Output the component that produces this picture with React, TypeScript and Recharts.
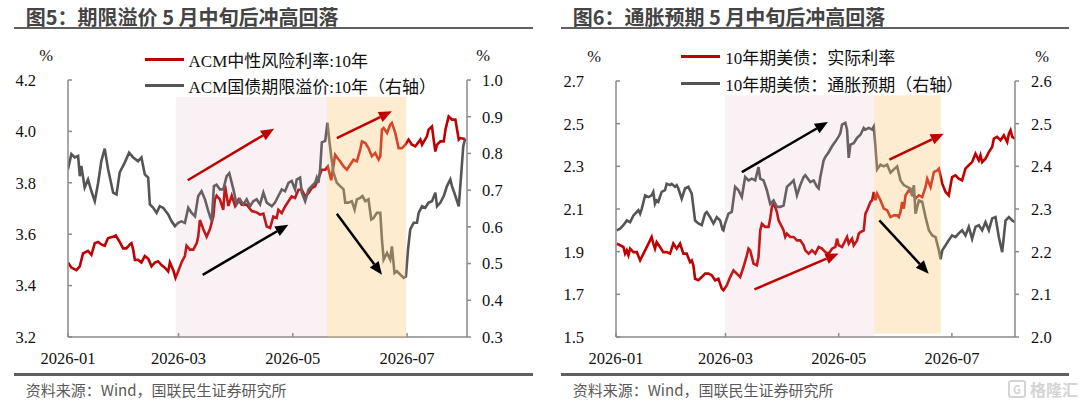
import React from "react";
import {
  ComposedChart,
  Line,
  XAxis,
  YAxis,
  ReferenceArea,
  ReferenceLine,
  Legend,
} from "recharts";

type Pt = [number, number];
type Arrow = { from: Pt; to: Pt };

// x = days since 2026-01-01
const monthTicks = [0, 59, 120, 181];
const monthLabels = ["2026-01", "2026-03", "2026-05", "2026-07"];

// 图5: ACM 中性风险利率 (左轴) / 期限溢价 (右轴)
const acmNeutral: Pt[] = [
  [0, 3.49], [1.8, 3.47], [4.5, 3.46], [6.3, 3.475], [8, 3.525], [10.7, 3.535], [12.5, 3.52],
  [14.3, 3.565], [16.1, 3.57], [17.8, 3.56], [19.6, 3.555], [21.4, 3.585], [24.1, 3.59],
  [25.5, 3.595], [27.6, 3.57], [29.4, 3.545], [31.2, 3.545], [33, 3.56], [33.9, 3.565],
  [34.8, 3.54], [35.7, 3.5], [37.4, 3.5], [39.2, 3.49], [41, 3.515], [42.8, 3.505],
  [44.6, 3.475], [46.4, 3.49], [48.1, 3.495], [49.9, 3.48], [51.7, 3.47], [53.5, 3.455],
  [54.4, 3.49], [56.2, 3.46], [57.4, 3.43], [58.8, 3.455], [60.6, 3.49], [62.4, 3.515],
  [63.3, 3.555], [65.1, 3.54], [66.9, 3.54], [68.7, 3.565], [69.5, 3.59], [70.4, 3.655],
  [72.2, 3.62], [74, 3.59], [75.8, 3.62], [77.6, 3.67], [78.4, 3.735], [79.3, 3.75],
  [81.1, 3.735], [82.9, 3.695], [83.8, 3.79], [85.6, 3.71], [87.4, 3.75], [89.2, 3.71],
  [91, 3.735], [92.7, 3.715], [95.4, 3.715], [98.1, 3.69], [100.7, 3.685], [102.5, 3.676],
  [104.3, 3.68], [106.1, 3.63], [107.9, 3.624], [109.6, 3.669], [111.4, 3.663], [112.3, 3.695],
  [114.1, 3.682], [115.9, 3.708], [117.7, 3.728], [119.4, 3.747], [121.2, 3.741], [123, 3.773],
  [124.8, 3.773], [126.6, 3.747], [128.4, 3.76], [130.1, 3.779], [131.9, 3.786], [133.7, 3.818],
  [135.5, 3.851], [137.3, 3.851], [138.7, 3.864], [140.5, 3.81], [142.6, 3.909], [145.3, 3.883],
  [147.1, 3.864], [148.9, 3.851], [150.6, 3.87], [152.4, 3.89], [154.2, 3.883], [156, 3.929],
  [156.9, 3.961], [158.7, 3.955], [160.4, 3.935], [162.2, 3.903], [164, 3.916], [165.8, 3.89],
  [166.7, 3.903], [167.6, 4.007], [168.5, 4.013], [170.3, 3.994], [172, 4.026], [172.9, 4.033],
  [174.7, 3.994], [176.5, 3.935], [178.3, 3.935], [180.1, 3.948], [181.8, 3.968], [183.6, 3.948],
  [185.4, 3.942], [188.1, 3.968], [189, 3.948], [191.6, 3.981], [192.5, 4.007], [194.3, 4.019],
  [195.2, 3.968], [196.1, 3.922], [197, 3.948], [198.8, 3.961], [200.6, 3.961], [201.5, 4.007],
  [203.2, 4.058], [205, 4.046], [206.8, 4.046], [208.6, 3.968], [209.5, 3.974], [212, 3.97],
];

const acmPremium: Pt[] = [
  [0, 0.757], [1.8, 0.798], [3.6, 0.789], [5.4, 0.793], [6.3, 0.738], [7.1, 0.766], [8.9, 0.707],
  [10.7, 0.729], [12.5, 0.697], [14.3, 0.67], [16.1, 0.72], [17.8, 0.779], [19.6, 0.813],
  [21.4, 0.757], [24.1, 0.693], [25.9, 0.688], [27.6, 0.748], [30.3, 0.775], [32.6, 0.802],
  [34.8, 0.789], [37.4, 0.779], [39.2, 0.789], [41, 0.743], [42.8, 0.734], [43.7, 0.661],
  [45.5, 0.652], [47.3, 0.638], [49, 0.656], [50.8, 0.652], [53.5, 0.634], [55.3, 0.615],
  [57.1, 0.602], [58.8, 0.611], [60.6, 0.615], [62.4, 0.611], [64.2, 0.652], [66, 0.638],
  [67.8, 0.629], [69.5, 0.684], [71.3, 0.697], [73.1, 0.675], [74.9, 0.643], [76.7, 0.615],
  [77.9, 0.711], [79.3, 0.715], [81.1, 0.702], [82.9, 0.702], [84.7, 0.738], [86.1, 0.746],
  [88.3, 0.702], [90, 0.661], [91.8, 0.675], [93.6, 0.661], [95.4, 0.675], [97.2, 0.656],
  [98.9, 0.67], [100.7, 0.675], [102.5, 0.661], [104.3, 0.693], [106.1, 0.666], [108.8, 0.656],
  [110.5, 0.666], [112.3, 0.684], [114.1, 0.702], [115.9, 0.697], [117.7, 0.72], [119.4, 0.725],
  [121.2, 0.702], [122.1, 0.729], [123.9, 0.734], [124.8, 0.693], [126.6, 0.67], [128.4, 0.702],
  [130.1, 0.711], [131.9, 0.72], [132.8, 0.734], [133.7, 0.72], [134.6, 0.757], [135.5, 0.83],
  [137.3, 0.834], [138.5, 0.884], [139.4, 0.839], [140.5, 0.793], [141.7, 0.748], [143.5, 0.72],
  [145.3, 0.711], [147.1, 0.702], [148, 0.666], [149.7, 0.666], [151.5, 0.67], [153, 0.647],
  [154.2, 0.675], [156, 0.679], [157.2, 0.684], [158.7, 0.67], [160.4, 0.675], [161.9, 0.62],
  [163.1, 0.624], [164.9, 0.638], [166.7, 0.638], [167.6, 0.565], [168.5, 0.511], [170.3, 0.529],
  [172, 0.511], [172.9, 0.547], [174.3, 0.474], [175.6, 0.479], [177.4, 0.47], [179.2, 0.461],
  [180.4, 0.465], [181.5, 0.538], [182.7, 0.593], [184.5, 0.611], [186.3, 0.611], [187.2, 0.638],
  [189, 0.656], [190.7, 0.652], [192.5, 0.666], [194.3, 0.67], [196.1, 0.693], [197, 0.656],
  [198.8, 0.666], [200.6, 0.684], [202.3, 0.711], [204.1, 0.729], [205, 0.711], [206.8, 0.684],
  [208.6, 0.656], [210, 0.75], [211, 0.82], [212, 0.84],
];

// 图6: 10年期美债 实际利率 (左轴) / 通胀预期 (右轴)
const realYield: Pt[] = [
  [0.4, 1.938], [2.2, 1.93], [4, 1.922], [4.9, 1.891], [5.8, 1.906], [6.7, 1.883], [7.6, 1.914],
  [9.4, 1.898], [11.2, 1.898], [13, 1.859], [13.9, 1.875], [15.7, 1.906], [17.5, 1.938],
  [19.2, 1.969], [20.1, 1.938], [21, 1.914], [21.9, 1.945], [23.7, 1.922], [25.5, 1.898],
  [27.3, 1.898], [29.1, 1.891], [30.9, 1.938], [32.7, 1.914], [34.5, 1.938], [36.3, 1.891],
  [38.1, 1.891], [39.9, 1.851], [40.8, 1.859], [41.7, 1.836], [42.6, 1.773], [44.4, 1.766],
  [46.2, 1.781], [48, 1.797], [49.8, 1.797], [51.6, 1.789], [53.4, 1.766], [55.2, 1.773],
  [57, 1.727], [57.9, 1.719], [59.7, 1.742], [61.5, 1.781], [63.3, 1.812], [65.1, 1.797],
  [66.9, 1.781], [68.7, 1.828], [70.5, 1.883], [71.4, 1.914], [72.3, 1.906], [74.1, 1.844],
  [75.9, 1.836], [76.8, 1.875], [77.7, 2], [78.6, 2.031], [80.4, 2.016], [82.2, 2.016],
  [83.1, 2.055], [84, 2.109], [84.9, 2.125], [85.8, 2.109], [86.7, 2.086], [87.6, 2.047],
  [89.4, 2.016], [90.3, 2], [91.2, 1.969], [92.1, 1.984], [93.9, 1.969], [95.7, 1.969],
  [97.5, 1.953], [99.3, 1.953], [101.1, 1.93], [102, 1.906], [103.8, 1.891], [105.6, 1.906],
  [107.4, 1.891], [109.2, 1.922], [111, 1.914], [112.8, 1.898], [114.6, 1.891], [116.4, 1.914],
  [118.2, 1.922], [119.1, 1.961], [120, 1.93], [121.8, 1.922], [123.6, 1.953], [124.5, 1.969],
  [125.4, 1.938], [127.2, 1.961], [128.1, 1.93], [129.9, 1.953], [130.8, 1.984], [131.7, 1.992],
  [133.5, 2], [134.4, 2.078], [135.3, 2.094], [137.1, 2.133], [138, 2.141], [138.9, 2.18],
  [139.8, 2.141], [140.7, 2.172], [142.5, 2.141], [144.3, 2.102], [146.1, 2.094], [147.9, 2.062],
  [149.7, 2.07], [151.5, 2.07], [152.4, 2.062], [153.3, 2.086], [154.2, 2.133], [155.1, 2.102],
  [156, 2.164], [157.8, 2.188], [159.6, 2.172], [161.4, 2.149], [163.2, 2.164], [165, 2.156],
  [166.8, 2.203], [167.7, 2.242], [169.5, 2.203], [171.3, 2.273], [173.1, 2.281], [174, 2.289],
  [175.8, 2.219], [177.6, 2.18], [179.3, 2.164], [181.1, 2.25], [182.9, 2.258], [184.7, 2.242],
  [186.5, 2.234], [188.3, 2.289], [190.1, 2.305], [191.9, 2.32], [193.7, 2.359], [195.5, 2.328],
  [196.4, 2.352], [197.3, 2.32], [199.1, 2.336], [200.9, 2.367], [202.7, 2.391], [203.6, 2.43],
  [205.4, 2.438], [207.2, 2.422], [209, 2.445], [210.8, 2.414], [211.7, 2.453], [212.6, 2.469],
  [213.5, 2.438], [215, 2.43],
];

const breakeven: Pt[] = [
  [0.4, 2.25], [2.2, 2.254], [4, 2.262], [5.8, 2.273], [7.6, 2.269], [9.4, 2.285], [11.2, 2.293],
  [12.1, 2.297], [13, 2.289], [13.9, 2.301], [15.7, 2.332], [17.5, 2.328], [19.2, 2.332],
  [20.1, 2.34], [21, 2.312], [21.9, 2.32], [22.8, 2.317], [24.6, 2.34], [26.4, 2.344],
  [27.3, 2.359], [29.1, 2.356], [30, 2.359], [31.8, 2.352], [32.7, 2.356], [33.6, 2.348],
  [35.4, 2.324], [37.2, 2.348], [39, 2.352], [40.8, 2.336], [42.6, 2.273], [44.4, 2.266],
  [46.2, 2.262], [48, 2.289], [48.9, 2.293], [50.7, 2.281], [52.5, 2.266], [54.3, 2.281],
  [56.1, 2.273], [57.4, 2.252], [57.9, 2.25], [58.8, 2.266], [60.6, 2.289], [62.4, 2.293],
  [64.2, 2.352], [66, 2.344], [67.8, 2.328], [69.6, 2.375], [71.4, 2.367], [73.2, 2.371],
  [75, 2.367], [76.8, 2.398], [77.7, 2.371], [79.5, 2.367], [81.3, 2.344], [83.1, 2.312],
  [84.9, 2.32], [86.7, 2.305], [88.5, 2.305], [90.3, 2.308], [92.1, 2.352], [93.9, 2.359],
  [95.7, 2.367], [97.5, 2.332], [99.3, 2.356], [101.1, 2.375], [102, 2.379], [104.7, 2.363],
  [106.5, 2.367], [108.3, 2.352], [109.2, 2.348], [110.1, 2.375], [111.9, 2.414], [112.8, 2.422],
  [114.6, 2.433], [116.4, 2.447], [118.2, 2.458], [120, 2.47], [120.9, 2.478], [121.8, 2.498],
  [123.6, 2.502], [124.5, 2.486], [125.4, 2.42], [126.3, 2.451], [128.1, 2.454], [129.9, 2.467],
  [131.7, 2.474], [133.5, 2.49], [134.4, 2.486], [136.2, 2.49], [138, 2.486], [138.9, 2.493],
  [139.8, 2.447], [140.7, 2.393], [142.5, 2.404], [144.3, 2.4], [146.1, 2.404], [147.9, 2.385],
  [149.7, 2.393], [151.5, 2.4], [153.3, 2.367], [155.1, 2.356], [156.9, 2.352], [158.7, 2.348],
  [159.6, 2.33], [160.5, 2.356], [161.4, 2.289], [163.2, 2.32], [165, 2.317], [166.8, 2.281],
  [168.6, 2.25], [170.4, 2.238], [172.2, 2.234], [174, 2.203], [174.9, 2.182], [175.8, 2.203],
  [177.6, 2.215], [179.3, 2.227], [181.1, 2.238], [182.9, 2.234], [184.7, 2.243], [186.5, 2.25],
  [188.3, 2.238], [190.1, 2.258], [191.9, 2.23], [193.7, 2.258], [195.5, 2.262], [197.3, 2.25],
  [199.1, 2.269], [200.9, 2.25], [202.7, 2.278], [204.5, 2.281], [206.3, 2.234], [208.1, 2.199],
  [209.9, 2.273], [211.7, 2.281], [213.5, 2.273], [215, 2.269],
];

const premiumTicksL = [3.2, 3.4, 3.6, 3.8, 4.0, 4.2];
const premiumTicksR = [0.3, 0.4, 0.5, 0.6, 0.7, 0.8, 0.9, 1.0];
const inflationTicksL = [1.5, 1.7, 1.9, 2.1, 2.3, 2.5, 2.7];
const inflationTicksR = [2.0, 2.1, 2.2, 2.3, 2.4, 2.5, 2.6];

// shaded windows, in days
const premiumRise: Pt = [57.6, 138.2];
const premiumFall: Pt = [138.2, 180.6];
const inflationRise: Pt = [58.8, 139.1];
const inflationFall: Pt = [139.1, 175];

// annotation arrows, [day, left-axis value]
const premiumRedArrows: Arrow[] = [
  { from: [63.9, 3.81], to: [110, 4.01] },
  { from: [143.5, 3.974], to: [172.9, 4.078] },
];
const premiumBlackArrows: Arrow[] = [
  { from: [71.9, 3.442], to: [117.6, 3.637] },
  { from: [143.5, 3.68], to: [167.6, 3.442] },
];
const inflationRedArrows: Arrow[] = [
  { from: [74.6, 1.723], to: [119.9, 1.891] },
  { from: [147.3, 2.331], to: [176.6, 2.453] },
];
const inflationBlackArrows: Arrow[] = [
  { from: [67.8, 2.273], to: [114.2, 2.508] },
  { from: [141.9, 2.047], to: [168.5, 1.797] },
];

const RED = "#C00000";
const GRAY = "#555555";
const AXIS = { stroke: "#8a8a8a", strokeWidth: 1.5 };
const SERIF = "'Liberation Serif', 'Times New Roman', 'Noto Sans CJK SC', serif";
const SANS = "'Noto Sans CJK SC', 'Noto Sans', sans-serif";
const TEXT_STYLE = { fontFamily: SERIF, fontSize: 16.5, fill: "#111" };

const toRows = (pts: Pt[]) => pts.map(([d, v]) => ({ d, v }));

// tick renderer: dy mimics Recharts' vertical anchoring (middle for y axes, top for x axis)
const tickText = (fmt: (v: number) => string, dy: string) => (p: any) => (
  <text x={p.x} y={p.y} dy={dy} textAnchor={p.textAnchor} style={TEXT_STYLE}>
    {fmt(p.payload.value)}
  </text>
);
const fmtNum = (v: number) => v.toFixed(1);
const fmtMonth = (v: number) => monthLabels[monthTicks.indexOf(v)] ?? "";

const arrowShape = (color: string) => (p: any) => {
  const { x1, y1, x2, y2 } = p;
  const a = Math.atan2(y2 - y1, x2 - x1);
  const len = 13;
  const hw = 5.5;
  const bx = x2 - len * Math.cos(a);
  const by = y2 - len * Math.sin(a);
  const pts = [
    `${x2},${y2}`,
    `${bx + hw * Math.sin(a)},${by - hw * Math.cos(a)}`,
    `${bx - hw * Math.sin(a)},${by + hw * Math.cos(a)}`,
  ].join(" ");
  return (
    <g>
      <line x1={x1} y1={y1} x2={bx} y2={by} stroke={color} strokeWidth={2.5} />
      <polygon points={pts} fill={color} />
    </g>
  );
};

const pct = (dx: number) => (p: any) => {
  const vb = p.viewBox || { x: 0, y: 80 };
  return (
    <text x={vb.x + dx} y={vb.y - 25} dy="0.355em" textAnchor="middle" style={TEXT_STYLE}>
      %
    </text>
  );
};

interface PanelProps {
  leftName: string;
  rightName: string;
  leftData: Pt[];
  rightData: Pt[];
  xEnd: number;
  lTicks: number[];
  rTicks: number[];
  rise: Pt;
  fall: Pt;
  shadeTop: number;
  fallBottom: number;
  redArrows: Arrow[];
  blackArrows: Arrow[];
  top: number;
  lw: number;
  rw: number;
  rTickMargin: number;
  pctL: number;
  pctR: number;
  legendLeft: number;
  legendTop: number;
}

function Panel(props: PanelProps) {
  const lDomain: Pt = [props.lTicks[0], props.lTicks[props.lTicks.length - 1]];
  const rDomain: Pt = [props.rTicks[0], props.rTicks[props.rTicks.length - 1]];
  const arrows = [
    ...props.redArrows.map((a) => ({ ...a, color: RED })),
    ...props.blackArrows.map((a) => ({ ...a, color: "#000" })),
  ];
  return (
    <ComposedChart
      width={540}
      height={403}
      margin={{ top: props.top, right: 0, bottom: 36, left: 0 }}
    >
      <XAxis
        type="number"
        dataKey="d"
        domain={[0, props.xEnd]}
        ticks={monthTicks}
        interval={0}
        allowDataOverflow
        height={30}
        tickSize={-4}
        tickMargin={19}
        axisLine={AXIS}
        tickLine={AXIS}
        tick={tickText(fmtMonth, "0.71em")}
      />
      <YAxis
        yAxisId="L"
        orientation="left"
        width={props.lw}
        domain={lDomain}
        ticks={props.lTicks}
        interval={0}
        allowDataOverflow
        tickSize={-4}
        tickMargin={36}
        axisLine={AXIS}
        tickLine={AXIS}
        tick={tickText(fmtNum, "0.355em")}
        label={{ position: "top", content: pct(props.pctL) }}
      />
      <YAxis
        yAxisId="R"
        orientation="right"
        width={props.rw}
        domain={rDomain}
        ticks={props.rTicks}
        interval={0}
        allowDataOverflow
        tickSize={4}
        tickMargin={props.rTickMargin}
        axisLine={AXIS}
        tickLine={AXIS}
        tick={tickText(fmtNum, "0.355em")}
        label={{ position: "top", content: pct(props.pctR) }}
      />
      <Line
        yAxisId="L"
        data={toRows(props.leftData)}
        dataKey="v"
        name={props.leftName}
        type="linear"
        stroke={RED}
        strokeWidth={2.6}
        dot={false}
        activeDot={false}
        isAnimationActive={false}
      />
      <Line
        yAxisId="R"
        data={toRows(props.rightData)}
        dataKey="v"
        name={props.rightName}
        type="linear"
        stroke={GRAY}
        strokeWidth={2.6}
        dot={false}
        activeDot={false}
        isAnimationActive={false}
      />
      <ReferenceArea
        yAxisId="L"
        x1={props.rise[0]}
        x2={props.rise[1]}
        y1={lDomain[0]}
        y2={props.shadeTop}
        fill="#D9A0AE"
        fillOpacity={0.15}
        stroke="none"
        zIndex={1000}
      />
      <ReferenceArea
        yAxisId="L"
        x1={props.fall[0]}
        x2={props.fall[1]}
        y1={props.fallBottom}
        y2={props.shadeTop}
        fill="#FBC97A"
        fillOpacity={0.35}
        stroke="none"
        zIndex={1000}
      />
      {arrows.map((a, i) => (
        <ReferenceLine
          key={i}
          yAxisId="L"
          segment={[
            { x: a.from[0], y: a.from[1] },
            { x: a.to[0], y: a.to[1] },
          ]}
          shape={arrowShape(a.color)}
          zIndex={1100}
        />
      ))}
      <Legend
        layout="vertical"
        align="center"
        verticalAlign="middle"
        wrapperStyle={{
          left: props.legendLeft,
          top: props.legendTop,
          right: "auto",
          bottom: "auto",
          width: 360,
        }}
        content={(p: any) => (
          <div style={{ fontFamily: SERIF, fontSize: 17, color: "#111" }}>
            {(p.payload || []).map((e: any, i: number) => (
              <div
                key={i}
                style={{ display: "flex", alignItems: "center", height: 26.5, whiteSpace: "nowrap" }}
              >
                <span
                  style={{
                    display: "inline-block",
                    width: 39,
                    height: 2.6,
                    background: e.color,
                    marginRight: 5,
                  }}
                />
                <span>{e.value}</span>
              </div>
            ))}
          </div>
        )}
      />
    </ComposedChart>
  );
}

const rule = (left: number, width: number, top: number) => (
  <div
    style={{
      position: "absolute",
      left,
      top,
      width,
      height: 2.5,
      background: "#5f5f5f",
    }}
  />
);

const title = (left: number, text: string) => (
  <div
    style={{
      position: "absolute",
      left,
      top: 6.5,
      fontFamily: SANS,
      fontWeight: 700,
      fontSize: 20,
      lineHeight: "20px",
      color: "#444",
      whiteSpace: "pre",
    }}
  >
    {text}
  </div>
);

const source = (left: number) => (
  <div
    style={{
      position: "absolute",
      left,
      top: 382,
      fontFamily: SANS,
      fontSize: 15,
      lineHeight: "15px",
      color: "#5a5a5a",
      whiteSpace: "pre",
    }}
  >
    资料来源：Wind，国联民生证券研究所
  </div>
);

export default function App() {
  return (
    <div
      style={{
        position: "absolute",
        left: 0,
        top: 0,
        width: 1080,
        height: 403,
        background: "#fff",
        overflow: "hidden",
      }}
    >
      {title(25.8, "图5：期限溢价 5 月中旬后冲高回落")}
      {title(572.7, "图6：通胀预期 5 月中旬后冲高回落")}
      {rule(13.8, 519, 26.5)}
      {rule(560.7, 508, 26.5)}

      <div style={{ position: "absolute", left: 0, top: 0 }}>
        <Panel
          leftName="ACM中性风险利率:10年"
          rightName="ACM国债期限溢价:10年（右轴）"
          leftData={acmNeutral}
          rightData={acmPremium}
          xEnd={213}
          lTicks={premiumTicksL}
          rTicks={premiumTicksR}
          rise={premiumRise}
          fall={premiumFall}
          shadeTop={4.135}
          fallBottom={3.2}
          redArrows={premiumRedArrows}
          blackArrows={premiumBlackArrows}
          top={80}
          lw={68}
          rw={73}
          rTickMargin={11}
          pctL={46}
          pctR={16}
          legendLeft={144.6}
          legendTop={46}
        />
      </div>

      <div style={{ position: "absolute", left: 540, top: 0 }}>
        <Panel
          leftName="10年期美债：实际利率"
          rightName="10年期美债：通胀预期（右轴）"
          leftData={realYield}
          rightData={breakeven}
          xEnd={215}
          lTicks={inflationTicksL}
          rTicks={inflationTicksR}
          rise={inflationRise}
          fall={inflationFall}
          shadeTop={2.633}
          fallBottom={1.515}
          redArrows={inflationRedArrows}
          blackArrows={inflationBlackArrows}
          top={81}
          lw={76}
          rw={65}
          rTickMargin={12}
          pctL={54}
          pctR={27}
          legendLeft={141.2}
          legendTop={43.5}
        />
      </div>

      {rule(13.8, 519, 373)}
      {rule(560.7, 508, 373)}
      {source(25.8)}
      {source(572.7)}

      <div
        style={{
          position: "absolute",
          left: 1008,
          top: 380,
          display: "flex",
          alignItems: "center",
          fontFamily: SANS,
          fontSize: 16,
          lineHeight: "18px",
          color: "#d4d4d4",
          fontWeight: 700,
        }}
      >
        <span
          style={{
            display: "inline-block",
            width: 14,
            height: 14,
            border: "2px solid #d4d4d4",
            borderRadius: 3,
            marginRight: 4,
            fontSize: 11,
            lineHeight: "14px",
            textAlign: "center",
          }}
        >
          G
        </span>
        格隆汇
      </div>
    </div>
  );
}
